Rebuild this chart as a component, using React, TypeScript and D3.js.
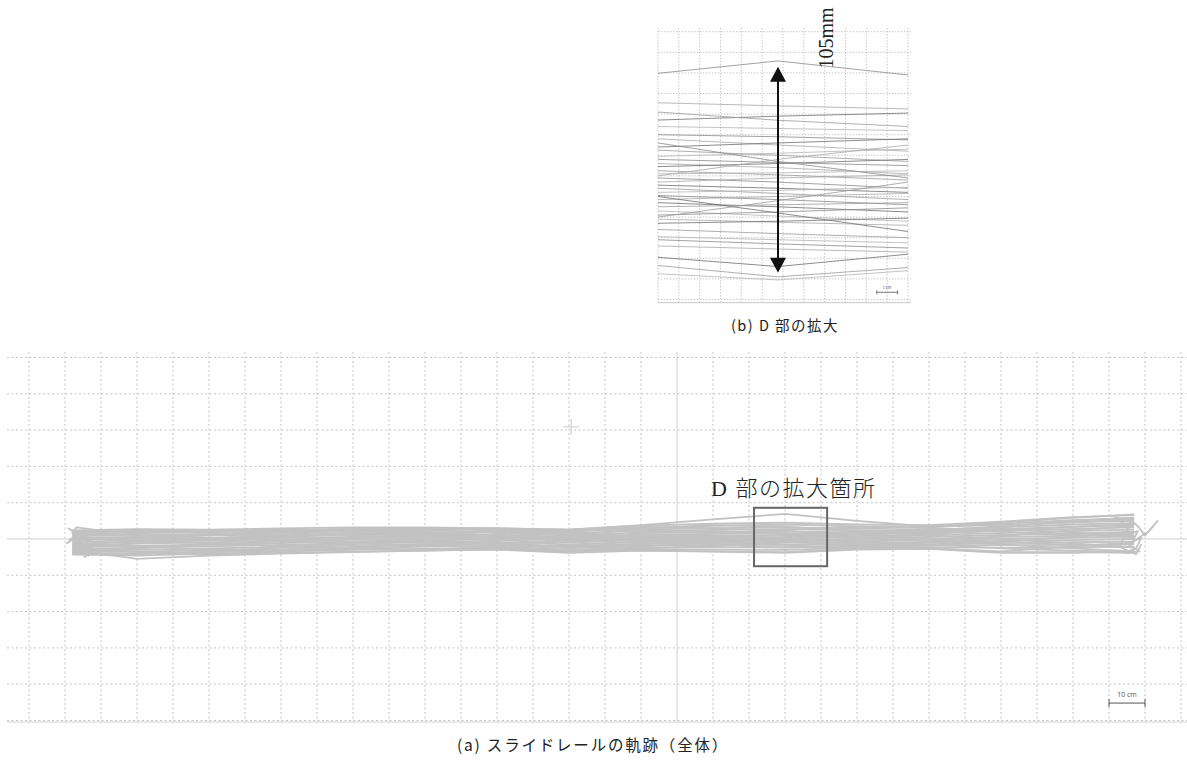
import React from "react";
import * as d3 from "d3";

// ---------- Main view (a): stations along the rail (cm) and lateral offsets (cm) ----------
const MAIN_STATIONS_CM = [-168, -150, -130, -110, -90, -70, -50, -30, -10, 10, 30, 50, 70, 90, 110, 127];

const MAIN_PASSES_CM: number[][] = [
  [2.4, 2.7, 2.6, 2.9, 3.2, 3.2, 2.9, 2.6, 3.7, 4.2, 4.5, 4.0, 3.8, 4.8, 6.0, 6.6],
  [1.8, 2.2, 2.5, 2.4, 2.8, 3.0, 2.4, 2.0, 3.1, 3.6, 4.0, 3.5, 3.2, 4.2, 5.2, 5.8],
  [1.2, 1.6, 1.9, 2.2, 2.0, 2.5, 2.6, 2.4, 2.6, 3.0, 3.2, 2.8, 3.4, 3.8, 4.6, 5.0],
  [0.8, 1.0, 1.4, 1.7, 2.3, 1.9, 1.8, 1.6, 2.2, 2.5, 2.7, 2.4, 2.6, 3.2, 4.0, 4.4],
  [0.2, 0.6, 1.0, 1.2, 1.5, 1.6, 2.0, 1.1, 1.6, 1.9, 2.1, 1.8, 2.0, 2.7, 3.4, 3.9],
  [-0.3, 0.2, 0.4, 0.8, 1.1, 1.2, 1.2, 0.6, 1.2, 1.4, 1.5, 1.3, 1.6, 2.2, 2.8, 3.2],
  [-0.8, -0.3, 0.0, 0.3, 0.6, 0.9, 0.7, 0.0, 0.7, 0.9, 1.0, 0.8, 1.1, 1.6, 2.2, 2.6],
  [-1.3, -0.8, -0.4, -0.1, 0.3, 0.4, 0.2, -0.5, 0.2, 0.4, 0.5, 0.3, 0.6, 1.1, 1.5, 2.0],
  [-1.8, -1.3, -0.9, -0.6, -0.2, 0.0, -0.3, -1.0, -0.3, -0.1, 0.0, -0.2, 0.1, 0.6, 0.9, 1.3],
  [-2.3, -1.9, -1.5, -1.1, -0.7, -0.5, -0.8, -1.5, -0.8, -0.6, -0.5, -0.6, -0.4, 0.1, 0.3, 0.7],
  [-2.8, -2.4, -2.0, -1.6, -1.2, -1.0, -1.3, -2.0, -1.3, -1.1, -1.0, -1.1, -0.9, -0.5, -0.3, 0.0],
  [-3.2, -3.0, -2.6, -2.2, -1.8, -1.5, -1.7, -2.5, -1.8, -1.7, -1.6, -1.5, -1.4, -1.1, -0.9, -0.7],
  [-3.6, -3.5, -3.1, -2.8, -2.4, -2.1, -2.1, -3.0, -2.3, -2.3, -2.3, -2.0, -1.8, -1.7, -1.6, -1.4],
  [-4.0, -4.0, -3.6, -3.4, -3.0, -2.7, -2.5, -3.4, -2.8, -2.9, -3.0, -2.4, -2.3, -2.4, -2.3, -2.1],
  [-4.3, -4.6, -4.0, -3.8, -3.5, -3.2, -2.9, -3.8, -3.2, -3.5, -3.8, -2.9, -2.7, -3.8, -3.8, -3.2],
  [2.0, 1.2, 0.4, -0.5, -1.2, -1.8, -2.3, -3.0, -2.6, -2.0, -1.0, 0.2, 1.5, 2.4, 3.3, 4.0],
  [-3.5, -2.6, -1.6, -0.6, 0.4, 1.3, 2.2, 2.5, 3.3, 3.0, 2.2, 1.2, 0.2, -0.8, -1.6, -2.2],
  [1.0, 1.8, 2.4, 2.7, 2.2, 1.4, 0.6, -0.2, 0.5, 1.5, 2.6, 3.3, 3.0, 2.0, 1.2, 0.5],
  [-1.0, -2.0, -2.9, -3.4, -2.8, -2.0, -1.1, -0.8, 0.0, 0.8, 0.3, -0.6, -1.5, -2.6, -3.2, -3.6],
  [0.5, -0.4, -1.1, -2.0, -2.6, -2.9, -2.4, -1.6, -0.8, 0.2, 1.2, 2.0, 2.4, 3.5, 4.6, 5.5],
  [-2.2, -1.2, 0.0, 1.2, 2.4, 2.8, 2.5, 1.5, 0.6, -0.6, -1.8, -2.3, -1.8, -0.8, 0.6, 1.8],
  [2.2, 2.4, 1.6, 0.8, 0.0, -0.8, -1.6, -2.2, -1.5, -0.5, 0.5, 1.2, 1.8, 3.4, 5.0, 5.9],
  [-3.9, -4.2, -3.4, -2.4, -1.4, -0.4, 0.4, 0.6, 1.8, 2.2, 1.6, 0.6, -0.5, -1.5, -2.6, -3.4],
  [0.0, 0.4, 1.2, 2.0, 2.6, 2.0, 1.0, 0.2, -0.6, -1.5, -2.4, -1.8, -0.8, 0.8, 2.4, 3.6],
  [-1.6, -0.6, -1.2, -2.0, -1.0, -0.2, -1.2, -2.4, -2.0, -1.0, 0.2, 1.4, 2.2, 2.8, 1.8, 0.8],
  [1.4, 1.6, 2.0, 2.4, 2.8, 3.0, 3.0, 2.6, 3.8, 5.4, 6.9, 5.0, 3.5, 4.5, 5.8, 6.8],
  [-2.6, -3.6, -4.4, -3.2, -2.2, -1.4, -0.4, 0.2, 1.0, 0.2, -0.8, -1.8, -2.6, -3.4, -2.0, -1.0],
  [1.6, 0.8, 0.2, 0.6, 1.8, 2.6, 1.6, 1.0, 2.8, 3.8, 3.4, 2.2, 1.0, 0.0, -1.2, -2.4],
  [-3.0, -5.5, -4.6, -4.0, -3.6, -3.2, -2.8, -3.6, -3.1, -3.4, -3.6, -2.6, -2.5, -3.6, -3.6, -3.8],
];

const LEFT_END_SCRIBBLE_CM: [number, number][] = [
  [-169.2, 3.0], [-166.5, 1.2], [-168.8, -0.2], [-164.0, 0.8], [-167.5, -1.8], [-162.5, -2.4],
  [-166.0, -3.6], [-163.5, -4.6], [-165.5, -2.8], [-161.5, -1.0], [-167.0, 0.4], [-169.5, -1.2],
  [-165.0, 2.0], [-162.0, 2.6], [-166.8, 3.2], [-168.0, 1.8], [-163.0, -3.9], [-164.8, -5.0],
];

const RIGHT_END_SCRIBBLE_CM: [number, number][] = [
  [121.5, 6.2], [124.0, 5.0], [122.5, 3.2], [126.0, 4.2], [124.5, 1.0], [128.0, 2.2],
  [126.5, -0.8], [129.0, 0.4], [127.5, -2.6], [124.5, -3.8], [128.5, -3.4], [125.5, -1.6],
  [129.5, 1.2], [131.0, 2.0], [133.5, 5.0], [130.0, 1.0], [128.0, 3.6], [126.0, 5.2],
  [123.0, -2.2], [127.5, -4.2], [129.0, -1.4],
];

const MAIN_GRID_X_CM = [-180, -170, -160, -150, -140, -130, -120, -110, -100, -90, -80, -70, -60, -50, -40, -30, -20, -10,
  10, 20, 30, 40, 50, 60, 70, 80, 90, 100, 110, 120, 130, 140];
const MAIN_GRID_Y_CM = [-50, -40, -30, -20, -10, 10, 20, 30, 40, 50];

const ZOOM_BOX_CM = { x0: 21.4, x1: 41.7, y0: -7.5, y1: 8.6 };
const CROSS_CM = { x: -29.4, y: 30.9 };
const SCALE_BAR_MAIN_CM = { x0: 120, x1: 130, y: -45.2 };

// ---------- Inset (b): positions in cm, y measured downward from top grid line ----------
const INSET_X_CM = [0, 5.76, 12];
const INSET_PASSES_CM: number[][] = [
  [2.02, 1.42, 2.10],
  [3.45, 3.60, 3.75],
  [4.29, 4.10, 3.95],
  [3.90, 4.30, 4.60],
  [4.60, 4.70, 4.80],
  [5.00, 5.10, 5.25],
  [5.20, 5.50, 5.80],
  [5.60, 5.40, 5.20],
  [5.75, 6.00, 6.30],
  [6.05, 5.90, 5.70],
  [6.20, 6.35, 6.50],
  [6.40, 6.60, 6.90],
  [6.55, 6.40, 6.20],
  [6.75, 6.95, 7.20],
  [6.90, 6.85, 6.75],
  [7.10, 7.30, 7.60],
  [7.30, 7.10, 6.95],
  [7.45, 7.60, 7.80],
  [7.60, 7.85, 8.15],
  [7.80, 7.70, 7.55],
  [7.95, 8.15, 8.40],
  [8.15, 8.00, 7.85],
  [8.30, 8.50, 8.75],
  [8.50, 8.40, 8.30],
  [8.70, 8.95, 9.20],
  [8.90, 8.75, 8.55],
  [9.10, 9.25, 9.40],
  [9.30, 9.20, 9.05],
  [9.60, 9.80, 10.00],
  [9.95, 10.10, 10.25],
  [10.10, 10.30, 10.50],
  [10.40, 10.55, 10.70],
  [10.95, 11.40, 10.80],
  [11.35, 11.90, 11.45],
  [11.75, 12.05, 11.60],
  [5.40, 6.30, 7.10],
  [7.00, 6.20, 5.50],
  [8.00, 8.80, 9.70],
  [9.00, 8.20, 7.30],
];
const INSET_GRID_X_CM = [0, 1, 2, 3, 4, 5, 6, 7, 8, 9, 10, 11, 12];
const INSET_GRID_Y_CM = [0, 1, 2, 3, 4, 5, 6, 7, 8, 9, 10, 11, 12, 13];
const INSET_ARROW_CM = { x: 5.76, y0: 1.7, y1: 11.7 };
const INSET_SCALE_BAR_CM = { x0: 10.5, x1: 11.5, y: 12.65 };

const INSET_TONES = ["#8a8a8a", "#a8a8a8", "#6e6e6e", "#9a9a9a", "#b4b4b4"];

export default function App() {
  // main scales: 10 cm = 36 px horizontally, 36.3 px vertically; origin at (677, 539)
  const xM = d3.scaleLinear().domain([0, 10]).range([677, 713]);
  const yM = d3.scaleLinear().domain([0, 10]).range([539, 502.7]);
  // inset scales
  const xI = d3.scaleLinear().domain([0, 12]).range([658, 908]);
  const yI = d3.scaleLinear().domain([0, 13]).range([31.7, 299.5]);

  const passLine = d3
    .line<number>()
    .x((_, i) => xM(MAIN_STATIONS_CM[i]))
    .y((d) => yM(d));
  const scribbleLine = d3
    .line<[number, number]>()
    .x((d) => xM(d[0]))
    .y((d) => yM(d[1]));
  const insetLine = d3
    .line<number>()
    .x((_, i) => xI(INSET_X_CM[i]))
    .y((d) => yI(d));

  const mainTop = 352;
  const mainBottom = 722;
  const mainLeft = 7;
  const mainRight = 1187;

  const insetLeft = 658;
  const insetRight = 911;
  const insetTop = 28;
  const insetBottom = 302.7;

  const ax = xI(INSET_ARROW_CM.x);
  const ay0 = yI(INSET_ARROW_CM.y0);
  const ay1 = yI(INSET_ARROW_CM.y1);

  return (
    <svg
      width={1187}
      height={763}
      style={{ position: "absolute", left: 0, top: 0, background: "#fff" }}
      fontFamily="'Noto Sans CJK JP', 'Noto Sans', sans-serif"
    >
      <rect x={0} y={0} width={1187} height={763} fill="#fff" />

      {/* ---------- Inset (b) ---------- */}
      <g>
        {INSET_GRID_X_CM.map((c) => (
          <line key={"ivx" + c} x1={xI(c)} x2={xI(c)} y1={insetTop} y2={insetBottom}
            stroke="#bdbdbd" strokeWidth={0.8} strokeDasharray="1.5 1.5" />
        ))}
        {INSET_GRID_Y_CM.map((c) => (
          <line key={"ihy" + c} x1={insetLeft} x2={insetRight} y1={yI(c)} y2={yI(c)}
            stroke="#bdbdbd" strokeWidth={0.8} strokeDasharray="1.5 1.5" />
        ))}
        <line x1={insetLeft} x2={insetRight} y1={insetBottom} y2={insetBottom} stroke="#c8c8c8" strokeWidth={1} />
        {INSET_PASSES_CM.map((p, i) => (
          <path key={"ip" + i} d={insetLine(p) || ""} fill="none"
            stroke={INSET_TONES[i % INSET_TONES.length]} strokeWidth={0.8} />
        ))}
        {/* double arrow */}
        <line x1={ax} x2={ax} y1={ay0 + 12} y2={ay1 - 12} stroke="#111" strokeWidth={2} />
        <path d={`M${ax},${ay0} L${ax - 8},${ay0 + 15} L${ax + 8},${ay0 + 15} Z`} fill="#111" />
        <path d={`M${ax},${ay1} L${ax - 8},${ay1 - 15} L${ax + 8},${ay1 - 15} Z`} fill="#111" />
        <text
          transform={`translate(${833},${38}) rotate(-90)`}
          textAnchor="middle"
          fontFamily="'Liberation Serif', 'DejaVu Serif', serif"
          fontSize={20}
          fill="#222"
        >
          105mm
        </text>
        {/* inset scale bar */}
        <g stroke="#555" strokeWidth={0.8}>
          <line x1={xI(INSET_SCALE_BAR_CM.x0)} x2={xI(INSET_SCALE_BAR_CM.x1)}
            y1={yI(INSET_SCALE_BAR_CM.y)} y2={yI(INSET_SCALE_BAR_CM.y)} />
          <line x1={xI(INSET_SCALE_BAR_CM.x0)} x2={xI(INSET_SCALE_BAR_CM.x0)}
            y1={yI(INSET_SCALE_BAR_CM.y) - 2} y2={yI(INSET_SCALE_BAR_CM.y) + 2} />
          <line x1={xI(INSET_SCALE_BAR_CM.x1)} x2={xI(INSET_SCALE_BAR_CM.x1)}
            y1={yI(INSET_SCALE_BAR_CM.y) - 2} y2={yI(INSET_SCALE_BAR_CM.y) + 2} />
        </g>
        <text x={(xI(INSET_SCALE_BAR_CM.x0) + xI(INSET_SCALE_BAR_CM.x1)) / 2}
          y={yI(INSET_SCALE_BAR_CM.y) - 3} textAnchor="middle" fontSize={4} fill="#555">
          1 cm
        </text>
        <text x={785} y={331} textAnchor="middle" fontSize={14.5} letterSpacing={1.5} fill="#222">
          (b) D 部の拡大
        </text>
      </g>

      {/* ---------- Main view (a) ---------- */}
      <g>
        {MAIN_GRID_X_CM.map((c) => (
          <line key={"mvx" + c} x1={xM(c)} x2={xM(c)} y1={mainTop} y2={mainBottom}
            stroke="#c4c4c4" strokeWidth={1} strokeDasharray="2 2.5" />
        ))}
        {MAIN_GRID_Y_CM.map((c) => (
          <line key={"mhy" + c} x1={mainLeft} x2={mainRight} y1={yM(c)} y2={yM(c)}
            stroke="#c4c4c4" strokeWidth={1} strokeDasharray="2 2.5" />
        ))}
        {/* axes */}
        <line x1={xM(0)} x2={xM(0)} y1={mainTop} y2={mainBottom} stroke="#d0d0d0" strokeWidth={1} />
        <line x1={mainLeft} x2={mainRight} y1={yM(0)} y2={yM(0)} stroke="#cfcfcf" strokeWidth={1} />
        <line x1={mainLeft} x2={mainRight} y1={mainBottom} y2={mainBottom} stroke="#d4d4d4" strokeWidth={1} />
        {/* faint cross marker */}
        <g stroke="#cccccc" strokeWidth={1}>
          <line x1={xM(CROSS_CM.x - 2.2)} x2={xM(CROSS_CM.x + 2.2)} y1={yM(CROSS_CM.y)} y2={yM(CROSS_CM.y)} />
          <line x1={xM(CROSS_CM.x)} x2={xM(CROSS_CM.x)} y1={yM(CROSS_CM.y + 2.2)} y2={yM(CROSS_CM.y - 2.2)} />
        </g>

        {/* trajectory passes */}
        <g fill="none" stroke="#c2c2c2" strokeWidth={1.8} strokeLinejoin="round">
          {MAIN_PASSES_CM.map((p, i) => (
            <path key={"mp" + i} d={passLine(p) || ""} />
          ))}
          <path d={scribbleLine(LEFT_END_SCRIBBLE_CM) || ""} />
          <path d={scribbleLine(RIGHT_END_SCRIBBLE_CM) || ""} />
        </g>

        {/* zoom box */}
        <rect x={xM(ZOOM_BOX_CM.x0)} y={yM(ZOOM_BOX_CM.y1)}
          width={xM(ZOOM_BOX_CM.x1) - xM(ZOOM_BOX_CM.x0)}
          height={yM(ZOOM_BOX_CM.y0) - yM(ZOOM_BOX_CM.y1)}
          fill="none" stroke="#666" strokeWidth={2} />
        <text x={711} y={496} fontSize={22} letterSpacing={1.5} fill="#222"
          fontFamily="'Liberation Serif', 'Noto Sans CJK JP', serif" fontWeight={300}>
          D 部の拡大箇所
        </text>

        {/* scale bar */}
        <g stroke="#555" strokeWidth={1}>
          <line x1={xM(SCALE_BAR_MAIN_CM.x0)} x2={xM(SCALE_BAR_MAIN_CM.x1)}
            y1={yM(SCALE_BAR_MAIN_CM.y)} y2={yM(SCALE_BAR_MAIN_CM.y)} />
          <line x1={xM(SCALE_BAR_MAIN_CM.x0)} x2={xM(SCALE_BAR_MAIN_CM.x0)}
            y1={yM(SCALE_BAR_MAIN_CM.y) - 4} y2={yM(SCALE_BAR_MAIN_CM.y) + 4} />
          <line x1={xM(SCALE_BAR_MAIN_CM.x1)} x2={xM(SCALE_BAR_MAIN_CM.x1)}
            y1={yM(SCALE_BAR_MAIN_CM.y) - 4} y2={yM(SCALE_BAR_MAIN_CM.y) + 4} />
        </g>
        <text x={(xM(SCALE_BAR_MAIN_CM.x0) + xM(SCALE_BAR_MAIN_CM.x1)) / 2}
          y={yM(SCALE_BAR_MAIN_CM.y) - 6} textAnchor="middle" fontSize={7} fill="#555"
          fontFamily="'Open Sans', sans-serif">
          10 cm
        </text>

        <text x={593} y={751} textAnchor="middle" fontSize={15.5} letterSpacing={1.8} fill="#222">
          (a) スライドレールの軌跡（全体）
        </text>
      </g>
    </svg>
  );
}
